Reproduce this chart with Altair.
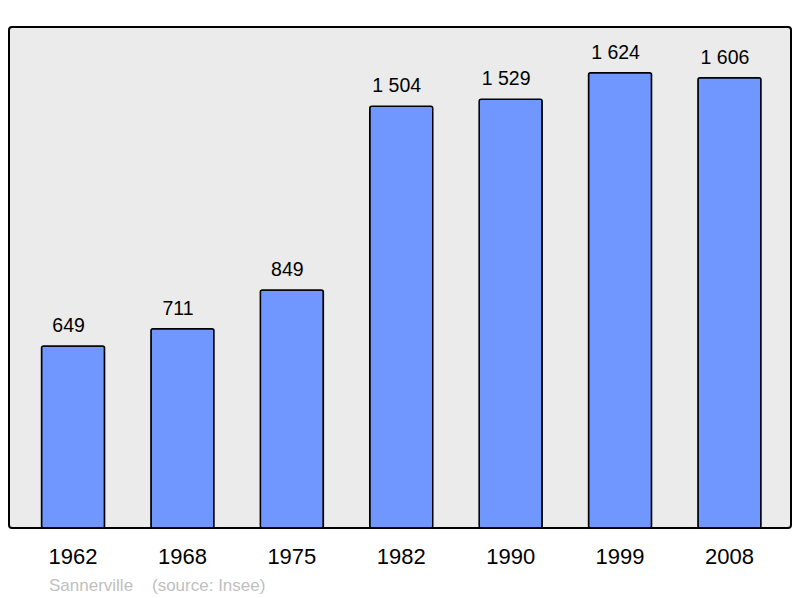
import altair as alt
import pandas as pd

years = ["1962", "1968", "1975", "1982", "1990", "1999", "2008"]
population = [649, 711, 849, 1504, 1529, 1624, 1606]
labels = ["649", "711", "849", "1 504", "1 529", "1 624", "1 606"]

df = pd.DataFrame({"year": years, "pop": population, "label": labels})

x = alt.X("year:N", sort=years,
          scale=alt.Scale(paddingInner=0.424, paddingOuter=0.286, align=0.52),
          axis=alt.Axis(title=None, labelAngle=0, domain=False, ticks=False,
                        labelFontSize=22, labelFont="Liberation Sans",
                        labelColor="#000000", labelPadding=18))
y = alt.Y("pop:Q", scale=alt.Scale(domain=[0, 1787], nice=False, zero=True),
          axis=None)

bars = alt.Chart(df).mark_bar(color="#7096ff", stroke="#000000", strokeWidth=1.5,
                              cornerRadius=2).encode(x=x, y=y)

text = alt.Chart(df).mark_text(baseline="alphabetic", dy=-14, dx=-4.5, fontSize=19.5,
                               font="Liberation Sans", color="#000000").encode(
    x=x, y=y, text="label:N")

chart = alt.layer(bars, text).properties(
    width=782, height=501,
    background="#ffffff",
    padding={"left": 1, "top": 19, "right": 1, "bottom": 0},
    title=alt.TitleParams(
        "Sannerville\u00a0\u00a0\u00a0\u00a0(source: Insee)", orient="bottom", anchor="start",
        fontSize=17, font="Liberation Sans", fontWeight="normal",
        color="#c0c0c0", offset=11, dx=40),
).configure_view(
    fill="#ebebeb", stroke="#000000", strokeWidth=2, cornerRadius=3
)

chart.save("out.html", embed_options={"renderer": "svg", "actions": False})
